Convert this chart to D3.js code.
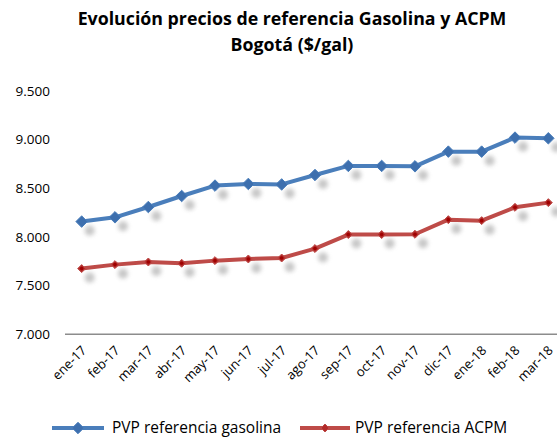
<!DOCTYPE html>
<html><head><meta charset="utf-8">
<script src="https://cdn.jsdelivr.net/npm/d3@7/dist/d3.min.js"></script>
<style>body{margin:0;background:#fff}svg{display:block}text{font-family:"Open Sans",Lato,sans-serif}</style>
</head><body><svg id="c" width="557" height="438"></svg>
<script>
const months = ["ene-17","feb-17","mar-17","abr-17","may-17","jun-17","jul-17","ago-17","sep-17","oct-17","nov-17","dic-17","ene-18","feb-18","mar-18"];
const gasolina = [8158,8202,8308,8421,8528,8545,8540,8637,8730,8730,8726,8877,8877,9021,9014];
const acpm = [7675,7716,7743,7730,7757,7774,7784,7881,8025,8025,8028,8178,8168,8305,8353];
const yTicks = [7000,7500,8000,8500,9000,9500];
const seriesNames = ["PVP referencia gasolina","PVP referencia ACPM"];

const svg = d3.select("#c");
const x = d3.scalePoint().domain(months).range([65,565]).padding(0.5);
const y = d3.scaleLinear().domain([7000,9500]).range([334.3,91]);
const fmt = v => d3.format(",.3f")(v/1000).replace(",", "");

const defs = svg.append("defs");
defs.append("filter").attr("id","blur").attr("x","-100%").attr("y","-100%").attr("width","300%").attr("height","300%")
  .append("feGaussianBlur").attr("stdDeviation",2.2);

// title
const t1 = svg.append("text").attr("x",292).attr("y",25).attr("text-anchor","middle").attr("font-weight","bold").attr("font-size",17).attr("fill","#000").text("Evolución precios de referencia Gasolina y ACPM");
const w = t1.node().getComputedTextLength();
const fs = 17*429/w;
t1.attr("font-size",fs);
svg.append("text").attr("x",292).attr("y",51).attr("text-anchor","middle").attr("font-weight","bold").attr("font-size",fs).attr("fill","#000").text("Bogotá ($/gal)");

// y axis labels
const yAxis = d3.axisLeft(y).tickValues(yTicks).tickFormat(fmt).tickSize(0).tickPadding(0);
const ga = svg.append("g").attr("transform","translate(50,0)").call(yAxis);
ga.select(".domain").remove();
ga.selectAll("text").attr("font-size",13.5).attr("fill","#000").attr("font-family","'Open Sans',sans-serif");

// x axis
const xAxis = d3.axisBottom(x).tickSize(0).tickPadding(0);
const gx = svg.append("g").attr("transform","translate(0,334.3)").call(xAxis);
gx.select(".domain").attr("stroke","#8c8c8c").attr("stroke-width",1.5).attr("d","M65,0H565");
gx.selectAll("text").attr("font-size",13).attr("fill","#000").attr("font-family","'Open Sans',sans-serif")
  .attr("text-anchor","end").attr("dy",0).attr("y",0)
  .attr("transform","translate(5,17) rotate(-45)");

const line = d3.line().x((d,i)=>x(months[i])).y(d=>y(d));
const series = [
  {vals:gasolina, color:"#4a7ebb", mk:"#3d6fae", size:6.5, dot:false},
  {vals:acpm, color:"#be4b48", mk:"#b22b2a", size:4.5, dot:true}
];
series.forEach(s=>{
  svg.append("g").selectAll("circle").data(s.vals).join("circle")
    .attr("cx",(d,i)=>x(months[i])+8).attr("cy",d=>y(d)+9).attr("r",5)
    .attr("fill","#9a9a9a").attr("opacity",0.55).attr("filter","url(#blur)");
});
series.forEach(s=>{
  svg.append("path").datum(s.vals).attr("d",line).attr("fill","none").attr("stroke",s.color).attr("stroke-width",4).attr("stroke-linejoin","round");
  svg.append("g").selectAll("path").data(s.vals).join("path")
    .attr("d",d3.symbol(d3.symbolDiamond2? d3.symbolDiamond2 : d3.symbolDiamond, 2*s.size*s.size))
    .attr("transform",(d,i)=>`translate(${x(months[i])},${y(d)})`)
    .attr("fill",s.mk).attr("stroke",s.color).attr("stroke-width",1);
  if(s.dot){
    svg.append("g").selectAll("circle").data(s.vals).join("circle")
      .attr("cx",(d,i)=>x(months[i])).attr("cy",d=>y(d)).attr("r",1.8).attr("fill","#a00000");
  }
});

// legend
const leg = [{x1:52,x2:104,tx:112,s:series[0]},{x1:300,x2:350,tx:355,s:series[1]}];
leg.forEach((l,k)=>{
  const g = svg.append("g");
  g.append("line").attr("x1",l.x1).attr("x2",l.x2).attr("y1",428).attr("y2",428).attr("stroke",l.s.color).attr("stroke-width",4);
  g.append("path").attr("d",d3.symbol(d3.symbolDiamond2? d3.symbolDiamond2 : d3.symbolDiamond, 2*l.s.size*l.s.size)())
    .attr("transform",`translate(${(l.x1+l.x2)/2},428)`).attr("fill",l.s.mk).attr("stroke",l.s.color);
  g.append("text").attr("x",l.tx).attr("y",433).attr("font-size",15.5).attr("fill","#000").text(seriesNames[k]);
});
</script></body></html>
